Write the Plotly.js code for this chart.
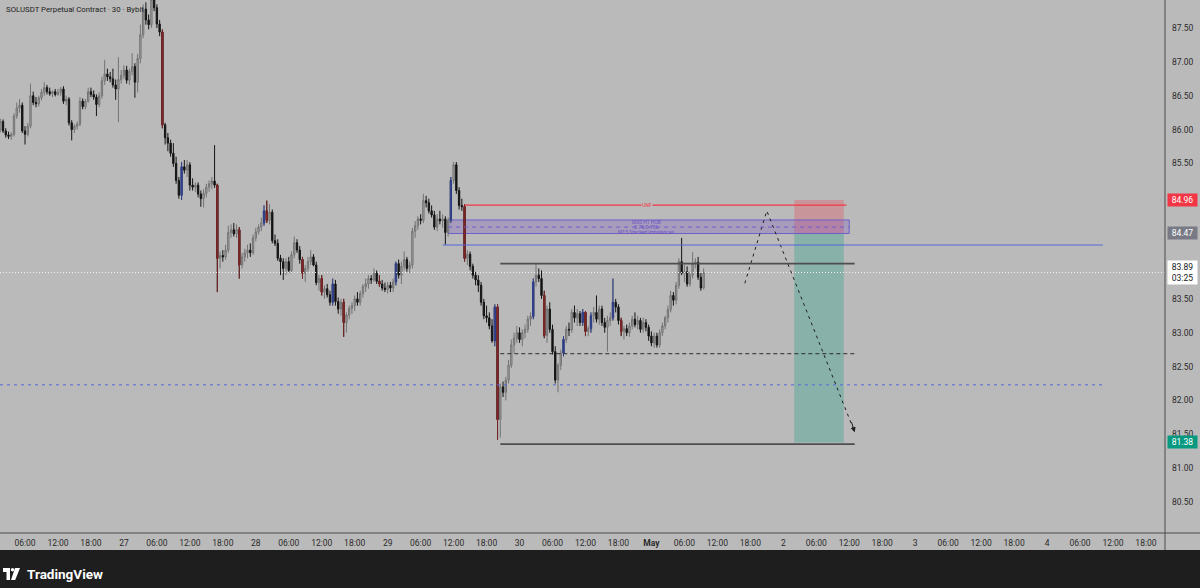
<!DOCTYPE html>
<html><head><meta charset="utf-8">
<script src="https://cdn.plot.ly/plotly-3.0.1.min.js"></script>
<style>html,body{margin:0;padding:0;background:#bababa;overflow:hidden}#chart{width:1200px;height:588px}</style>
</head><body><div id="chart"></div>
<script>
// ---- data (30-minute candles, first candle 2026-04-26 01:30) ----
const firstCandle = [2026, 3, 26, 1, 30];
const openP = [
86.00,86.12,85.98,85.92,85.90,85.93,86.20,86.32,86.36,85.98,
85.93,86.05,86.50,86.40,86.38,86.47,86.55,86.62,86.56,86.53,
86.56,86.52,86.55,86.60,86.42,86.45,86.10,86.00,86.05,86.08,
86.42,86.34,86.42,86.56,86.52,86.48,86.37,86.50,86.72,86.82,
86.78,86.75,86.66,86.60,86.74,86.80,86.88,86.73,86.86,86.93,
86.70,87.05,87.40,87.78,87.62,87.55,87.92,87.80,87.56,87.44,
86.07,85.88,85.80,85.65,85.50,85.25,85.03,85.45,85.40,85.48,
85.18,85.15,85.18,85.05,84.98,85.06,85.15,85.20,85.24,85.18,
84.10,84.14,84.12,84.22,84.48,84.52,84.46,84.52,84.00,84.12,
84.18,84.22,84.18,84.40,84.49,84.56,84.62,84.80,84.66,84.78,
84.36,84.32,84.10,84.05,83.95,84.05,83.92,84.15,84.33,84.22,
84.08,83.88,83.95,84.05,84.12,84.00,83.74,83.80,83.60,83.65,
83.56,83.45,83.72,83.46,83.35,83.45,83.15,83.26,83.36,83.40,
83.50,83.45,83.58,83.68,83.72,83.80,83.78,83.88,83.76,83.72,
83.66,83.64,83.70,83.66,83.75,84.02,83.85,83.98,84.08,83.95,
84.00,84.50,84.58,84.68,84.66,84.95,84.92,84.80,84.74,84.56,
84.68,84.65,84.68,84.48,84.66,85.25,85.48,85.10,84.88,84.86,
84.10,84.16,83.98,83.85,83.78,83.70,83.45,83.25,83.22,83.10,
82.88,83.38,81.72,82.20,82.12,82.30,82.52,82.82,82.92,83.00,
82.90,83.00,83.05,83.20,83.24,83.75,83.85,83.80,83.55,82.96,
83.35,83.05,82.72,82.30,82.52,82.70,82.90,83.05,83.04,83.30,
83.22,83.28,83.15,83.30,83.02,83.06,83.25,83.30,83.20,83.35,
83.15,83.08,83.18,83.22,83.45,83.38,83.18,83.02,83.06,83.00,
83.10,83.20,83.12,83.18,83.05,83.15,83.08,82.95,82.85,82.95,
82.82,83.00,83.10,83.22,83.34,83.55,83.48,83.70,84.05,83.88,
83.90,83.72,83.85,84.02,84.04,83.82,83.66];
const highP = [
86.16,86.15,86.02,85.97,85.96,86.24,86.40,86.45,86.40,86.05,
86.10,86.68,86.56,86.48,86.50,86.60,86.70,86.66,86.62,86.58,
86.60,86.60,86.63,86.64,86.50,86.48,86.14,86.08,86.12,86.48,
86.46,86.45,86.62,86.62,86.58,86.52,86.55,86.78,87.03,86.90,
86.85,86.90,86.74,87.07,86.88,86.95,86.94,86.90,87.13,86.98,
87.12,87.55,87.85,87.88,87.70,88.05,88.10,87.85,87.62,87.48,
86.10,85.95,85.85,85.80,85.60,85.30,85.52,85.55,85.55,85.52,
85.28,85.22,85.22,85.10,85.12,85.20,85.25,85.30,85.77,85.20,
84.20,84.22,84.30,84.58,84.60,84.62,84.60,84.56,84.18,84.24,
84.30,84.32,84.45,84.55,84.60,84.70,84.88,84.95,84.90,84.82,
84.45,84.38,84.15,84.10,84.10,84.12,84.20,84.42,84.38,84.28,
84.12,84.00,84.12,84.22,84.16,84.05,83.85,83.85,83.70,83.72,
83.62,83.80,83.78,83.52,83.50,83.50,83.30,83.40,83.45,83.55,
83.60,83.62,83.72,83.80,83.85,83.85,83.95,83.92,83.85,83.78,
83.74,83.75,83.75,83.80,84.05,84.08,84.05,84.20,84.12,84.05,
84.55,84.65,84.72,84.75,85.05,85.02,84.98,84.88,84.80,84.75,
84.80,84.75,84.72,84.70,85.30,85.52,85.52,85.15,84.98,84.90,
84.22,84.20,84.02,83.90,83.85,83.75,83.50,83.40,83.30,83.20,
83.42,83.42,82.25,82.28,82.35,82.60,82.90,83.00,83.10,83.08,
83.05,83.12,83.25,83.30,83.80,84.02,83.95,83.92,83.62,83.40,
83.45,83.12,82.80,82.55,82.75,82.95,83.10,83.15,83.35,83.40,
83.35,83.32,83.35,83.32,83.10,83.30,83.38,83.55,83.40,83.40,
83.22,83.25,83.30,83.80,83.50,83.42,83.22,83.10,83.12,83.15,
83.25,83.30,83.25,83.22,83.22,83.20,83.12,83.02,83.00,83.00,
83.05,83.15,83.25,83.40,83.62,83.60,83.75,84.10,84.40,84.00,
83.98,83.90,84.19,84.10,84.12,83.88,83.95];
const lowP = [
85.96,85.95,85.88,85.86,85.85,85.90,86.16,86.25,85.95,85.78,
85.90,86.02,86.36,86.33,86.34,86.43,86.50,86.52,86.50,86.48,
86.49,86.50,86.50,86.38,86.36,86.06,85.84,85.95,86.00,86.05,
86.30,86.30,86.40,86.48,86.44,86.20,86.33,86.46,86.66,86.72,
86.70,86.62,86.44,86.11,86.68,86.75,86.68,86.66,86.80,86.47,
86.55,86.98,87.35,87.55,87.48,87.50,87.75,87.50,87.38,86.02,
85.78,85.68,85.60,85.45,85.20,84.98,84.96,85.35,85.30,85.10,
85.10,85.08,85.00,84.86,84.85,85.00,85.08,85.12,85.14,83.60,
83.95,84.05,84.08,84.18,84.40,84.42,84.40,83.80,83.95,84.05,
84.10,84.12,84.15,84.35,84.45,84.50,84.58,84.62,84.60,84.32,
84.28,84.06,83.85,83.78,83.85,83.88,83.88,84.10,84.18,84.02,
83.80,83.75,83.90,84.00,83.98,83.70,83.62,83.55,83.50,83.52,
83.40,83.40,83.40,83.28,83.25,82.94,83.00,83.20,83.28,83.32,
83.40,83.40,83.52,83.60,83.65,83.72,83.75,83.72,83.68,83.62,
83.60,83.58,83.60,83.60,83.70,83.80,83.72,83.92,83.90,83.88,
83.95,84.40,84.52,84.60,84.62,84.85,84.76,84.70,84.52,84.50,
84.60,84.55,84.30,84.42,84.62,85.20,85.05,84.82,84.80,84.05,
84.00,83.92,83.80,83.70,83.60,83.40,83.20,83.15,83.05,82.85,
82.80,81.42,81.45,82.05,82.00,82.25,82.48,82.70,82.85,82.85,
82.80,82.92,83.00,83.10,83.20,83.68,83.75,83.50,82.92,82.85,
83.00,82.68,82.25,82.12,82.45,82.65,82.85,82.95,83.00,83.15,
83.10,83.10,83.10,82.95,82.95,83.00,83.15,83.15,83.12,83.10,
83.00,82.72,83.10,83.18,83.30,83.12,82.95,82.90,82.95,82.94,
83.05,83.08,83.05,83.00,83.00,83.02,82.88,82.80,82.78,82.78,
82.78,82.95,83.05,83.15,83.30,83.40,83.42,83.65,83.85,83.75,
83.68,83.68,83.80,83.95,83.78,83.62,83.64];
const closeP = [
86.12,85.98,85.92,85.90,85.93,86.20,86.32,86.36,85.98,85.93,
86.05,86.50,86.40,86.38,86.47,86.55,86.62,86.56,86.53,86.56,
86.52,86.55,86.60,86.42,86.45,86.10,86.00,86.05,86.08,86.42,
86.34,86.42,86.56,86.52,86.48,86.37,86.50,86.72,86.82,86.78,
86.75,86.66,86.60,86.74,86.80,86.88,86.73,86.86,86.93,86.70,
87.05,87.40,87.78,87.62,87.55,87.92,87.80,87.56,87.44,86.07,
85.88,85.80,85.65,85.50,85.25,85.03,85.45,85.40,85.48,85.18,
85.15,85.18,85.05,84.98,85.06,85.15,85.20,85.24,85.18,84.10,
84.14,84.12,84.22,84.48,84.52,84.46,84.52,84.00,84.12,84.18,
84.22,84.18,84.40,84.49,84.56,84.62,84.80,84.66,84.78,84.36,
84.32,84.10,84.05,83.95,84.05,83.92,84.15,84.33,84.22,84.08,
83.88,83.95,84.05,84.12,84.00,83.74,83.80,83.60,83.65,83.56,
83.45,83.72,83.46,83.35,83.45,83.15,83.26,83.36,83.40,83.50,
83.45,83.58,83.68,83.72,83.80,83.78,83.88,83.76,83.72,83.66,
83.64,83.70,83.66,83.75,84.02,83.85,83.98,84.08,83.95,84.00,
84.50,84.58,84.68,84.66,84.95,84.92,84.80,84.74,84.56,84.68,
84.65,84.68,84.48,84.66,85.25,85.48,85.10,84.88,84.86,84.10,
84.16,83.98,83.85,83.78,83.70,83.45,83.25,83.22,83.10,82.88,
83.38,81.72,82.20,82.12,82.30,82.52,82.82,82.92,83.00,82.90,
83.00,83.05,83.20,83.24,83.75,83.85,83.80,83.55,82.96,83.35,
83.05,82.72,82.30,82.52,82.70,82.90,83.05,83.04,83.30,83.22,
83.28,83.15,83.30,83.02,83.06,83.25,83.30,83.20,83.35,83.15,
83.08,83.18,83.22,83.45,83.38,83.18,83.02,83.06,83.00,83.10,
83.20,83.12,83.18,83.05,83.15,83.08,82.95,82.85,82.95,82.82,
83.00,83.10,83.22,83.34,83.55,83.48,83.70,84.05,83.88,83.90,
83.72,83.85,84.02,84.04,83.82,83.66,83.89];
// candles highlighted by the chart's colouring
const blueCandles = [66,96,121,144,164,180,194,205,212,215,223];
const maroonCandles = [59,79,87,97,110,117,125,138,169,181,198,213,226];

// price axis & time axis labels (85.00 sits under the stop tag)
const yTickVals = [80.5,81,81.5,82,82.5,83,83.5,84,84.5,85.5,86,86.5,87,87.5];
const xTickTimes = ['2026-04-26 06:00','2026-04-26 12:00','2026-04-26 18:00','2026-04-27 00:00',
 '2026-04-27 06:00','2026-04-27 12:00','2026-04-27 18:00','2026-04-28 00:00',
 '2026-04-28 06:00','2026-04-28 12:00','2026-04-28 18:00','2026-04-29 00:00',
 '2026-04-29 06:00','2026-04-29 12:00','2026-04-29 18:00','2026-04-30 00:00',
 '2026-04-30 06:00','2026-04-30 12:00','2026-04-30 18:00','2026-05-01 00:00',
 '2026-05-01 06:00','2026-05-01 12:00','2026-05-01 18:00','2026-05-02 00:00',
 '2026-05-02 06:00','2026-05-02 12:00','2026-05-02 18:00','2026-05-03 00:00',
 '2026-05-03 06:00','2026-05-03 12:00','2026-05-03 18:00','2026-05-04 00:00',
 '2026-05-04 06:00','2026-05-04 12:00','2026-05-04 18:00'];
const xTickLabels = ['06:00','12:00','18:00','27','06:00','12:00','18:00','28','06:00','12:00','18:00','29',
 '06:00','12:00','18:00','30','06:00','12:00','18:00','<b>May</b>','06:00','12:00','18:00','2',
 '06:00','12:00','18:00','3','06:00','12:00','18:00','4','06:00','12:00','18:00'];

// drawing levels (prices)
const lastPrice = 83.89, countdown = '03:25';
const stopPrice = 84.96, entryPrice = 84.47, targetPrice = 81.38;
const redLevel = 84.885;
const obTop = 84.665, obMid = 84.56, obBottom = 84.465;
const blueLevel = 84.295;
const rangeHigh = 84.02, rangeMid = 82.69, rangeLow = 81.355;
const blueDashLevel = 82.23;
const pathTimes = ['2026-05-01 17:00','2026-05-01 21:00','2026-05-02 13:00'];
const pathPrices = [83.73, 84.80, 81.53];

// ---- build ----
function fmt(ms){const d=new Date(ms);const p=n=>String(n).padStart(2,'0');
  return d.getUTCFullYear()+'-'+p(d.getUTCMonth()+1)+'-'+p(d.getUTCDate())+' '+p(d.getUTCHours())+':'+p(d.getUTCMinutes());}
const t0 = Date.UTC(...firstCandle);
const times = closeP.map((_,i)=>fmt(t0+i*1800000));
function subset(idx){return {x:idx.map(i=>times[i]),open:idx.map(i=>openP[i]),high:idx.map(i=>highP[i]),low:idx.map(i=>lowP[i]),close:idx.map(i=>closeP[i])};}

const traces = [];
traces.push({type:'candlestick',x:times,open:openP,high:highP,low:lowP,close:closeP,
  increasing:{line:{color:'#737373',width:1},fillcolor:'#a9a9a9'},
  decreasing:{line:{color:'#151515',width:1},fillcolor:'#111111'},
  whiskerwidth:0,hoverinfo:'none',showlegend:false});
const b = subset(blueCandles);
traces.push(Object.assign({type:'candlestick',increasing:{line:{color:'#2d3d86',width:1},fillcolor:'#34479a'},
  decreasing:{line:{color:'#2d3d86',width:1},fillcolor:'#34479a'},whiskerwidth:0,hoverinfo:'none',showlegend:false},b));
const m = subset(maroonCandles);
traces.push(Object.assign({type:'candlestick',increasing:{line:{color:'#7a2626',width:1},fillcolor:'#7d2a2a'},
  decreasing:{line:{color:'#7a2626',width:1},fillcolor:'#7d2a2a'},whiskerwidth:0,hoverinfo:'none',showlegend:false},m));
// projected path
traces.push({type:'scatter',mode:'lines',x:pathTimes,y:pathPrices,line:{color:'#1e1e1e',width:1,dash:'3px,4px'},hoverinfo:'none',showlegend:false});

const W=1165,H=533;
const px=x=>x/W, py=y=>(H-y)/H;
const xStart='2026-04-26 01:27', xEnd='2026-05-04 21:28';

const shapes = [
  // position tool
  {type:'rect',xref:'x',yref:'y',x0:'2026-05-02 02:00',x1:'2026-05-02 11:00',y0:entryPrice,y1:stopPrice,fillcolor:'rgba(242,54,69,0.27)',line:{width:0},layer:'below'},
  {type:'rect',xref:'x',yref:'y',x0:'2026-05-02 02:00',x1:'2026-05-02 11:00',y0:targetPrice,y1:entryPrice,fillcolor:'rgba(8,153,129,0.28)',line:{width:0},layer:'below'},
  // order block box
  {type:'rect',xref:'x',yref:'y',x0:'2026-04-29 11:00',x1:'2026-05-02 12:00',y0:obBottom,y1:obTop,fillcolor:'rgba(126,87,194,0.30)',line:{color:'#6f5fc8',width:1},layer:'below'},
  {type:'line',xref:'x',yref:'y',x0:'2026-04-29 11:00',x1:'2026-05-02 12:00',y0:obMid,y1:obMid,line:{color:'#6f5fc8',width:1,dash:'4px,4px'}},
  // red level
  {type:'line',xref:'x',yref:'y',x0:'2026-04-29 14:00',x1:'2026-05-02 11:30',y0:redLevel,y1:redLevel,line:{color:'#f23645',width:1.3}},
  // blue level
  {type:'line',xref:'x',yref:'y',x0:'2026-04-29 10:00',x1:'2026-05-04 10:10',y0:blueLevel,y1:blueLevel,line:{color:'#5468d8',width:1}},
  // range lines
  {type:'line',xref:'x',yref:'y',x0:'2026-04-29 20:30',x1:'2026-05-02 13:00',y0:rangeHigh,y1:rangeHigh,line:{color:'#4e4e4e',width:1.8}},
  {type:'line',xref:'x',yref:'y',x0:'2026-04-29 20:30',x1:'2026-05-02 13:00',y0:rangeMid,y1:rangeMid,line:{color:'#2a2a2a',width:1,dash:'4px,3px'}},
  {type:'line',xref:'x',yref:'y',x0:'2026-04-29 20:30',x1:'2026-05-02 13:00',y0:rangeLow,y1:rangeLow,line:{color:'#4e4e4e',width:1.8}},
  // blue dashed level
  {type:'line',xref:'x',yref:'y',x0:xStart,x1:'2026-05-04 10:10',y0:blueDashLevel,y1:blueDashLevel,line:{color:'#5468d8',width:1,dash:'3px,4px'}},
  // last price dotted line
  {type:'line',xref:'paper',yref:'y',x0:0,x1:1,y0:lastPrice,y1:lastPrice,line:{color:'#f4f4f4',width:1,dash:'1px,2px'}},
  // axis frame
  {type:'line',xref:'paper',yref:'paper',x0:1,x1:1,y0:py(550),y1:1,line:{color:'#4a4a4a',width:1}},
  {type:'line',xref:'paper',yref:'paper',x0:0,x1:px(1200),y0:0,y1:0,line:{color:'#4a4a4a',width:1}},
  // footer
  {type:'rect',xref:'paper',yref:'paper',x0:px(-5),x1:px(1205),y0:py(550),y1:py(595),fillcolor:'#1e1e1e',line:{width:0}},
  {type:'rect',xref:'paper',yref:'paper',x0:px(3),x1:px(10),y0:py(568),y1:py(572),fillcolor:'#ffffff',line:{width:0}},
  {type:'rect',xref:'paper',yref:'paper',x0:px(6.5),x1:px(10),y0:py(568),y1:py(580),fillcolor:'#ffffff',line:{width:0}},
  {type:'circle',xref:'paper',yref:'paper',x0:px(10.8),x1:px(14.2),y0:py(568),y1:py(571.6),fillcolor:'#ffffff',line:{width:0}},
  {type:'path',xref:'paper',yref:'paper',path:`M ${px(15)},${py(568)} L ${px(20)},${py(568)} L ${px(15.2)},${py(580)} L ${px(11)},${py(580)} Z`,fillcolor:'#ffffff',line:{width:0}}
];

const font = 'Roboto, Arial, sans-serif';
const tag = (y,text,bg,fg)=>({xref:'paper',yref:'y',x:1,y:y,xanchor:'left',yanchor:'middle',xshift:2,text:text,showarrow:false,
  bgcolor:bg,font:{family:font,size:8.5,color:fg},width:27,align:'center',borderpad:1});
const annotations = [
  {xref:'paper',yref:'paper',x:px(4),y:py(10),xanchor:'left',yanchor:'middle',showarrow:false,
   text:'SOLUSDT Perpetual Contract · 30 · Bybit',font:{family:font,size:7.8,color:'#222'}},
  {xref:'paper',yref:'paper',x:px(25),y:py(574),xanchor:'left',yanchor:'middle',showarrow:false,
   text:'<b>TradingView</b>',font:{family:font,size:13.5,color:'#ffffff'}},
  {xref:'x',yref:'y',x:'2026-04-30 23:10',y:redLevel,text:'UNF',showarrow:false,font:{family:font,size:5,color:'#f23645'},bgcolor:'#bababa',borderpad:0},
  {xref:'x',yref:'y',x:'2026-04-30 23:10',y:84.632,text:'M30 H1 HOB',showarrow:false,font:{family:font,size:5,color:'#6a52c4'}},
  {xref:'x',yref:'y',x:'2026-04-30 23:10',y:84.558,text:'0.75/0.786',showarrow:false,font:{family:font,size:5,color:'#6a52c4'}},
  {xref:'x',yref:'y',x:'2026-04-30 23:10',y:84.49,text:'M15 Stacked Imbalances',showarrow:false,font:{family:font,size:5,color:'#6a52c4'}},
  {xref:'x',yref:'y',axref:'x',ayref:'y',x:pathTimes[2],y:pathPrices[2],ax:'2026-05-02 12:20',ay:81.70,
   showarrow:true,arrowhead:2,arrowsize:1,arrowwidth:1,arrowcolor:'#1e1e1e',text:''},
  tag(stopPrice,'84.96','#f23645','#ffffff'),
  tag(entryPrice,'84.47','#787b86','#ffffff'),
  tag(lastPrice,'83.89<br>'+countdown,'#ffffff','#131722'),
  tag(targetPrice,'81.38','#089981','#ffffff')
];

const layout = {
  width:1200,height:588,margin:{l:0,r:35,t:0,b:55},
  paper_bgcolor:'#bababa',plot_bgcolor:'#bababa',
  font:{family:font,color:'#2a2a2a'},
  showlegend:false,hovermode:false,dragmode:false,
  xaxis:{type:'date',range:[xStart,xEnd],rangeslider:{visible:false},showgrid:false,zeroline:false,
    tickvals:xTickTimes,ticktext:xTickLabels,ticks:'',tickfont:{family:font,size:8.5,color:'#2a2a2a'},
    ticklabelstandoff:3,showline:false,fixedrange:true},
  yaxis:{side:'right',range:[80.042,87.914],showgrid:false,zeroline:false,tickvals:yTickVals,
    ticktext:yTickVals.map(v=>v.toFixed(2)),ticks:'',tickfont:{family:font,size:8.5,color:'#2a2a2a'},
    ticklabelstandoff:6,showline:false,fixedrange:true},
  shapes:shapes,annotations:annotations
};
Plotly.newPlot('chart',traces,layout,{staticPlot:true,displayModeBar:false});
</script></body></html>
